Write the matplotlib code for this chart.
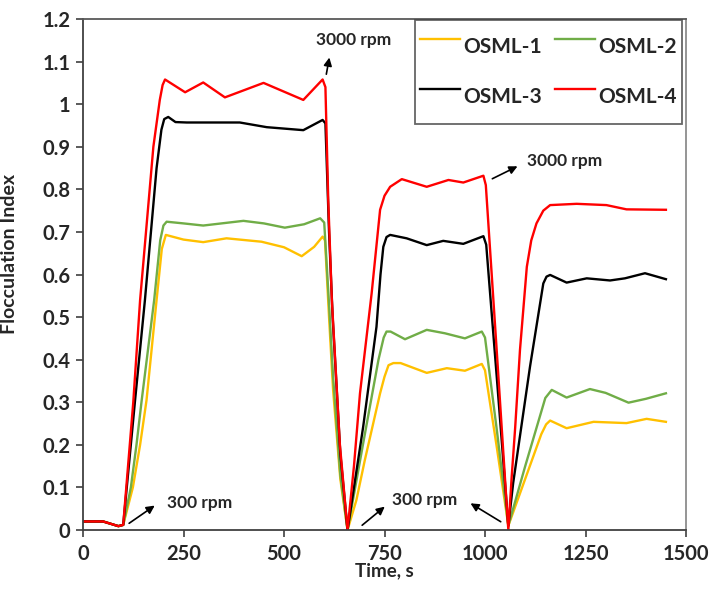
import matplotlib
matplotlib.use("Agg")
import matplotlib.pyplot as plt

plt.rcParams['font.family'] = ['Lato', 'DejaVu Sans']

# ---- data ----
start_t = [0, 50, 88, 100]
start_v = [0.02, 0.02, 0.009, 0.012]

t1 = start_t + [124, 142, 158, 183, 196, 206, 250, 299, 357, 444, 500, 544, 575, 596, 602,
                612, 622, 640, 658,
                680, 701, 739, 750, 760, 772, 790, 855, 905, 950, 992, 1000, 1030, 1058,
                1100, 1140, 1152, 1162, 1203, 1270, 1352, 1402, 1450]
v1 = start_v + [0.10, 0.20, 0.305, 0.54, 0.66, 0.693, 0.682, 0.676, 0.685, 0.677, 0.664, 0.643, 0.665, 0.689, 0.68,
                0.50, 0.33, 0.12, 0.0,
                0.07, 0.164, 0.321, 0.36, 0.387, 0.392, 0.392, 0.369, 0.380, 0.374, 0.390, 0.375, 0.19, 0.01,
                0.12, 0.225, 0.248, 0.257, 0.239, 0.254, 0.251, 0.261, 0.254]

t2 = start_t + [119, 133, 146, 177, 192, 200, 208, 250, 299, 399, 450, 502, 550, 590, 600,
                612, 622, 640, 658,
                697, 735, 748, 755, 765, 801, 855, 900, 950, 992, 1000, 1030, 1058,
                1100, 1150, 1166, 1203, 1261, 1300, 1357, 1400, 1450]
v2 = start_v + [0.10, 0.20, 0.305, 0.54, 0.68, 0.715, 0.724, 0.72, 0.715, 0.726, 0.72, 0.710, 0.718, 0.732, 0.722,
                0.53, 0.36, 0.13, 0.0,
                0.204, 0.40, 0.452, 0.466, 0.466, 0.448, 0.470, 0.462, 0.450, 0.466, 0.452, 0.23, 0.01,
                0.15, 0.31, 0.329, 0.311, 0.331, 0.322, 0.299, 0.308, 0.321]

t3 = start_t + [129, 154, 183, 195, 202, 212, 230, 258, 390, 457, 548, 596, 603,
                612, 621, 640, 658,
                697, 730, 740, 747, 755, 764, 805, 855, 896, 946, 996, 1003, 1030, 1058,
                1070, 1112, 1145, 1153, 1162, 1203, 1253, 1311, 1348, 1398, 1450]
v3 = start_v + [0.30, 0.54, 0.85, 0.94, 0.965, 0.97, 0.958, 0.957, 0.957, 0.946, 0.939, 0.963, 0.955,
                0.70, 0.50, 0.18, 0.0,
                0.243, 0.477, 0.60, 0.665, 0.688, 0.693, 0.685, 0.669, 0.679, 0.672, 0.690, 0.67, 0.35, 0.01,
                0.11, 0.384, 0.579, 0.595, 0.599, 0.581, 0.591, 0.586, 0.591, 0.603, 0.589]

t4 = start_t + [125, 142, 175, 191, 198, 204, 254, 299, 353, 449, 548, 596, 603,
                610, 619, 639, 658,
                674, 689, 718, 739, 750, 764, 793, 855, 909, 946, 996, 1002, 1029, 1058,
                1066, 1075, 1087, 1104, 1115, 1128, 1145, 1162, 1228, 1302, 1352, 1450]
v4 = start_v + [0.30, 0.54, 0.90, 1.01, 1.045, 1.058, 1.028, 1.051, 1.016, 1.050, 1.010, 1.058, 1.04,
                0.775, 0.54, 0.20, 0.0,
                0.15, 0.321, 0.556, 0.752, 0.785, 0.806, 0.824, 0.806, 0.822, 0.816, 0.832, 0.81, 0.423, 0.0,
                0.12, 0.24, 0.423, 0.618, 0.68, 0.72, 0.75, 0.763, 0.766, 0.763, 0.753, 0.752]

labels = ['OSML-1', 'OSML-2', 'OSML-3', 'OSML-4']
colors = ['#FFC000', '#70AD47', '#000000', '#FF0000']

x_ticks = [0, 250, 500, 750, 1000, 1250, 1500]
y_ticks = [0, 0.1, 0.2, 0.3, 0.4, 0.5, 0.6, 0.7, 0.8, 0.9, 1.0, 1.1, 1.2]
y_tick_labels = ['0', '0.1', '0.2', '0.3', '0.4', '0.5', '0.6', '0.7', '0.8', '0.9', '1', '1.1', '1.2']

# ---- figure ----
fig = plt.figure(figsize=(7.12, 5.89), dpi=100)
ax = fig.add_axes([0.1166, 0.1002, 0.8469, 0.8675])

handles = []
for t, v, lab, c in zip([t1, t2, t3, t4], [v1, v2, v3, v4], labels, colors):
    h, = ax.plot(t, v, color=c, lw=1.7, label=lab, solid_joinstyle='round')
    handles.append(h)

ax.set_xlim(0, 1500)
ax.set_ylim(0, 1.2)
ax.set_xticks(x_ticks)
ax.set_xticklabels([str(x) for x in x_ticks])
ax.set_yticks(y_ticks)
ax.set_yticklabels(y_tick_labels)

tick_col = '#404040'
ax.tick_params(axis='both', direction='out', length=5, width=1.2, color=tick_col,
               labelsize=14.5, labelcolor='#262626')
for lab in ax.get_xticklabels() + ax.get_yticklabels():
    lab.set_fontweight('bold')
ax.tick_params(axis='y', pad=4)
ax.tick_params(axis='x', pad=5)

ax.spines['left'].set_color(tick_col)
ax.spines['bottom'].set_color(tick_col)
ax.spines['top'].set_color('#595959')
ax.spines['right'].set_color('#8c8c8c')
for s in ax.spines.values():
    s.set_linewidth(1.3)

ax.set_xlabel('Time, s', fontsize=13.5, fontweight='bold', color='#262626', labelpad=-1)
ax.set_ylabel('Flocculation Index', fontsize=14, fontweight='bold', color='#262626')
ax.yaxis.set_label_coords(-0.108, 0.54)

order = [0, 2, 1, 3]
leg = ax.legend([handles[i] for i in order], [labels[i] for i in order],
                ncol=2, loc='upper right', bbox_to_anchor=(0.9934, 0.998),
                fontsize=15, frameon=True, fancybox=False,
                handlelength=1.9, handleheight=2.85,
                handletextpad=0.15, columnspacing=0.65, labelspacing=0.31,
                borderpad=0.25, borderaxespad=0)
leg.get_frame().set_edgecolor('#404040')
leg.get_frame().set_linewidth(1.3)
for txt in leg.get_texts():
    txt.set_fontweight('bold')
    txt.set_color('#262626')
for h in leg.get_lines():
    h.set_linewidth(1.7)

arrow = dict(arrowstyle='-|>', color='black', lw=1.2, mutation_scale=12)
fs = 12.5
ax.annotate('', xy=(614, 1.116), xytext=(604, 1.064), arrowprops=arrow)
ax.text(580, 1.151, '3000 rpm', fontsize=fs, fontweight='bold', va='center', ha='left', color='#262626')

ax.annotate('', xy=(1087, 0.857), xytext=(1012, 0.822), arrowprops=arrow)
ax.text(1104, 0.867, '3000 rpm', fontsize=fs, fontweight='bold', va='center', ha='left', color='#262626')

ax.annotate('', xy=(184, 0.061), xytext=(109, 0.012), arrowprops=arrow)
ax.text(209, 0.063, '300 rpm', fontsize=fs, fontweight='bold', va='center', ha='left', color='#262626')

ax.annotate('', xy=(756, 0.059), xytext=(689, 0.007), arrowprops=arrow)
ax.annotate('', xy=(958, 0.066), xytext=(1045, 0.016), arrowprops=arrow)
ax.text(769, 0.070, '300 rpm', fontsize=fs, fontweight='bold', va='center', ha='left', color='#262626')

fig.savefig('out.png', dpi=100)
